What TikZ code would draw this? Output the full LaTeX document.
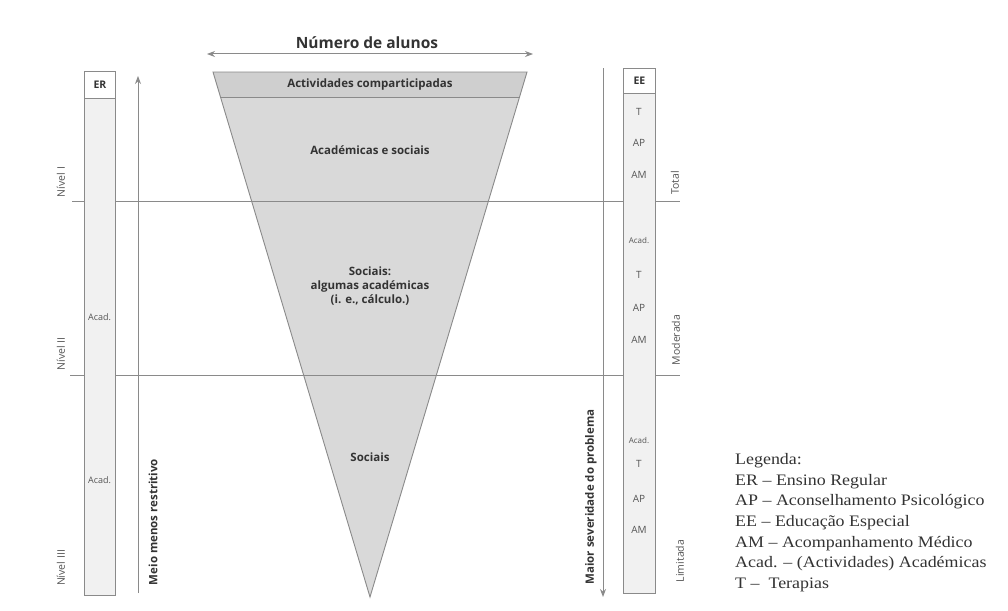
\documentclass[tikz,border=0pt]{standalone}
\usepackage{fontspec}
\setmainfont{Liberation Serif}[FakeStretch=1.12]
\setsansfont{Open Sans}
\usetikzlibrary{arrows.meta}
\definecolor{ink}{HTML}{333333}
\definecolor{soft}{HTML}{555555}
\definecolor{rule}{HTML}{8A8A8A}
\definecolor{trifill}{HTML}{D9D9D9}
\definecolor{bandfill}{HTML}{CFCFCF}
\definecolor{colfill}{HTML}{F1F1F1}
\tikzset{
  rulel/.style={draw=rule, line width=0.9pt},
  colbox/.style={draw=rule, line width=0.9pt, fill=colfill},
  headbox/.style={draw=rule, line width=0.9pt, fill=white},
  arr/.style={draw=rule, line width=1pt, -{Stealth[length=8pt,width=6pt]}},
  darr/.style={draw=rule, line width=1pt, {Stealth[length=8pt,width=6pt]}-{Stealth[length=8pt,width=6pt]}},
  boldlbl/.style={font=\sffamily\bfseries\fontsize{11.5}{13}\selectfont, text=ink, inner sep=0pt},
  smalllbl/.style={font=\sffamily\fontsize{9}{10}\selectfont, text=soft, inner sep=0pt},
  eelbl/.style={font=\sffamily\fontsize{10}{11}\selectfont, text=soft, inner sep=0pt},
  sidelbl/.style={font=\sffamily\fontsize{10.5}{11}\selectfont, text=soft, inner sep=0pt, rotate=90},
  legend/.style={font=\fontsize{16}{20.7}\selectfont, text=ink, inner sep=0pt, anchor=north west, align=left},
}
\begin{document}
\begin{tikzpicture}[x=1pt, y=-1pt]
\useasboundingbox (0,0) rectangle (1008,610);
\fill[white] (0,0) rectangle (1008,610);

% triangle
\coordinate (tl) at (213,72);
\coordinate (tr) at (527,72);
\coordinate (apex) at (370,597);
\coordinate (bl) at (220.5,97);
\coordinate (br) at (519.5,97);
\fill[trifill] (tl) -- (tr) -- (apex) -- cycle;
\fill[bandfill] (tl) -- (tr) -- (br) -- (bl) -- cycle;
\draw[rulel] (tl) -- (tr) -- (apex) -- cycle;
\draw[rulel] (bl) -- (br);

% level lines
\coordinate (l1a) at (72,201);
\coordinate (l1b) at (680,201);
\coordinate (l2a) at (70,375);
\coordinate (l2b) at (680,375);
\draw[rulel] (l1a) -- (l1b);
\draw[rulel] (l2a) -- (l2b);

% top arrow
\coordinate (na) at (207,54);
\coordinate (nb) at (533,54);
\draw[darr] (na) -- (nb);
\node[font=\sffamily\bfseries\fontsize{15.5}{17}\selectfont, text=ink, inner sep=0pt] (num) at (367,43) {Número de alunos};

% triangle labels
\node[boldlbl] (act) at (370,85) {Actividades comparticipadas};
\node[boldlbl] (acs) at (370,150) {Académicas e sociais};
\node[boldlbl, align=center, font=\sffamily\bfseries\fontsize{11.5}{14}\selectfont] (soc1) at (370,286) {Sociais:\\algumas académicas\\(i. e., cálculo.)};
\node[boldlbl] (soc2) at (370,457) {Sociais};

% ER column
\node[colbox, minimum width=31pt, minimum height=524pt, anchor=north west] (ercol) at (84,71) {};
\node[headbox, minimum width=31pt, minimum height=27pt, anchor=north west, font=\sffamily\bfseries\fontsize{10.5}{11}\selectfont, text=ink] (erh) at (84,71) {ER};
\node[smalllbl] (era1) at (99.5,317) {Acad.};
\node[smalllbl] (era2) at (99.5,480) {Acad.};

% left arrow
\coordinate (ua) at (138,593);
\coordinate (ub) at (138,76);
\draw[arr] (ua) -- (ub);
\node[boldlbl, rotate=90] (meio) at (153,522) {Meio menos restritivo};

% level labels
\node[sidelbl] (n1) at (61,182) {Nível I};
\node[sidelbl] (n2) at (61,354) {Nível II};
\node[sidelbl] (n3) at (61,568) {Nível III};

% right arrow
\coordinate (da) at (603,68);
\coordinate (db) at (603,597);
\draw[arr] (da) -- (db);
\node[boldlbl, rotate=90] (maior) at (591,497) {Maior severidade do problema};

% EE column
\node[colbox, minimum width=32pt, minimum height=525pt, anchor=north west] (eecol) at (623,68) {};
\node[headbox, minimum width=32pt, minimum height=25pt, anchor=north west, font=\sffamily\bfseries\fontsize{10.5}{11}\selectfont, text=ink] (eeh) at (623,68) {EE};
\node[eelbl] (e1) at (639,112) {T};
\node[eelbl] (e2) at (639,143) {AP};
\node[eelbl] (e3) at (639,175) {AM};
\node[smalllbl, font=\sffamily\fontsize{8}{9}\selectfont] (e4) at (639,241) {Acad.};
\node[eelbl] (e5) at (639,275) {T};
\node[eelbl] (e6) at (639,308) {AP};
\node[eelbl] (e7) at (639,340) {AM};
\node[smalllbl, font=\sffamily\fontsize{8}{9}\selectfont] (e8) at (639,441) {Acad.};
\node[eelbl] (e9) at (639,464) {T};
\node[eelbl] (e10) at (639,499) {AP};
\node[eelbl] (e11) at (639,530) {AM};

% severity labels
\node[sidelbl] (tot) at (675,183) {Total};
\node[sidelbl] (mod) at (676,340) {Moderada};
\node[sidelbl] (lim) at (680,561) {Limitada};

% legend
\node[legend] (leg) at (735,453) {Legenda:\\ER -- Ensino Regular\\AP -- Aconselhamento Psicológico\\EE -- Educação Especial\\AM -- Acompanhamento Médico\\Acad. -- (Actividades) Académicas\\T --\ \ Terapias};
\end{tikzpicture}
\end{document}
